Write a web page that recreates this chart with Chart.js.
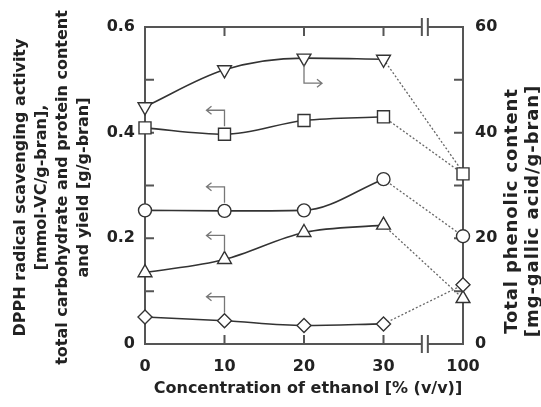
<!DOCTYPE html>
<html><head><meta charset="utf-8">
<script src="https://cdn.jsdelivr.net/npm/chart.js@4/dist/chart.umd.min.js"></script>
<style>html,body{margin:0;padding:0;background:#fff;}</style>
</head><body>
<canvas id="c" width="541" height="407"></canvas>
<script>
// ---- data ----
const categories = ['0', '10', '20', '30', '100'];          // ethanol concentration [% (v/v)]
const downTriangleVals = [44.9, 51.9, 54.1, 53.9, 32.5];   // right axis: total phenolic content
const squareVals   = [0.409, 0.397, 0.423, 0.430, 0.322];  // left axis
const circleVals   = [0.253, 0.252, 0.253, 0.312, 0.204];  // left axis
const triangleVals = [0.135, 0.160, 0.211, 0.225, 0.086];  // left axis
const diamondVals  = [0.051, 0.044, 0.035, 0.038, 0.112];  // left axis
const leftTickLabels  = ['0', '0.2', '0.4', '0.6'];
const rightTickLabels = ['0', '20', '40', '60'];
const xTitle = 'Concentration of ethanol [% (v/v)]';
const leftTitle = ['DPPH radical scavenging activity', '[mmol-VC/g-bran],', 'total carbohydrate and protein content', 'and yield [g/g-bran]'];
const rightTitle = ['Total phenolic content', '[mg-gallic acid/g-bran]'];

const FONT = 'DejaVu Sans';
const INK = '#222';
const LINE = '#333';

function solidPart(arr){ return arr.map((v,i)=> i < 4 ? v : null); }
function dottedPart(arr){ return arr.map((v,i)=> i >= 3 ? v : null); }

function series(vals, style, radius, rotation, axis, showLast, lastOrder){
  const common = { yAxisID: axis, borderColor: LINE, pointBorderColor: LINE, pointBackgroundColor: '#fff',
                   pointStyle: style, pointRotation: rotation, pointBorderWidth: 1.4, pointHoverRadius: radius };
  return [
    Object.assign({}, common, { data: solidPart(vals), borderWidth: 1.6, tension: 0.4, cubicInterpolationMode: 'monotone', pointRadius: radius, order: 0 }),
    Object.assign({}, common, { data: dottedPart(vals), borderWidth: 1.3, borderColor: '#666', borderDash: [2,2], tension: 0,
       pointRadius: ctx => (ctx.dataIndex === 4 && showLast) ? radius : 0, order: lastOrder })
  ];
}

const datasets = [
  ...series(downTriangleVals, 'triangle', 8, 180, 'y1', false, 6),
  ...series(squareVals, 'rect', 8.5, 0, 'y', true, 5),
  ...series(circleVals, 'circle', 6.5, 0, 'y', true, 4),
  ...series(diamondVals, 'rectRot', 7, 0, 'y', true, 2),
  ...series(triangleVals, 'triangle', 8, 0, 'y', true, 3),
];

const tickFont = { family: FONT, size: 16, weight: 'bold' };

const framePlugin = {
  id: 'frame',
  beforeDatasetsDraw(chart){
    const {ctx, chartArea:{left,right,top,bottom}} = chart;
    const xs = chart.scales.x, ys = chart.scales.y, y1 = chart.scales.y1;
    const bx = xs.getPixelForValue(3.52);
    const g = 3;
    ctx.save();
    ctx.strokeStyle = '#555'; ctx.lineWidth = 2; ctx.lineCap = 'butt';
    ctx.beginPath();
    ctx.moveTo(left, top - 1); ctx.lineTo(left, bottom + 1);
    ctx.moveTo(right, top - 1); ctx.lineTo(right, bottom + 1);
    ctx.moveTo(left, bottom); ctx.lineTo(bx - g, bottom);
    ctx.moveTo(bx + g, bottom); ctx.lineTo(right, bottom);
    ctx.moveTo(left, top); ctx.lineTo(bx - g, top);
    ctx.moveTo(bx + g, top); ctx.lineTo(right, top);
    [bottom, top].forEach(yy => {
      ctx.moveTo(bx - g, yy - 9); ctx.lineTo(bx - g, yy + 9);
      ctx.moveTo(bx + g, yy - 9); ctx.lineTo(bx + g, yy + 9);
    });
    ctx.stroke();
    ctx.beginPath();
    const L = 9;
    ys.ticks.forEach(t => { if (t.value > 0 && t.value < 0.6 - 1e-9) { const p = ys.getPixelForValue(t.value); ctx.moveTo(left, p); ctx.lineTo(left + L, p);} });
    y1.ticks.forEach(t => { if (t.value > 0 && t.value < 60) { const p = y1.getPixelForValue(t.value); ctx.moveTo(right, p); ctx.lineTo(right - L, p);} });
    [1,2,3].forEach(i => { const p = xs.getPixelForValue(i); ctx.moveTo(p, bottom); ctx.lineTo(p, bottom - L); ctx.moveTo(p, top); ctx.lineTo(p, top + L); });
    ctx.stroke();
    ctx.restore();
  },
  afterDatasetsDraw(chart){
    const {ctx} = chart;
    ctx.save();
    ctx.strokeStyle = '#777'; ctx.lineWidth = 1.3;
    [2,4,6,8].forEach(di => {
      const pt = chart.getDatasetMeta(di).data[1];
      const x = pt.x, y = pt.y, yTop = y - 24, xEnd = x - 18;
      ctx.beginPath();
      ctx.moveTo(x, y - 8); ctx.lineTo(x, yTop); ctx.lineTo(xEnd, yTop);
      ctx.moveTo(xEnd + 5, yTop - 4); ctx.lineTo(xEnd, yTop); ctx.lineTo(xEnd + 5, yTop + 4);
      ctx.stroke();
    });
    const p = chart.getDatasetMeta(0).data[2];
    const yb = p.y + 25, xe = p.x + 18;
    ctx.beginPath();
    ctx.moveTo(p.x, p.y + 7); ctx.lineTo(p.x, yb); ctx.lineTo(xe, yb);
    ctx.moveTo(xe - 5, yb - 4); ctx.lineTo(xe, yb); ctx.lineTo(xe - 5, yb + 4);
    ctx.stroke();
    ctx.restore();
  },
  afterDraw(chart){
    const {ctx, chartArea:{left,right,top,bottom}} = chart;
    ctx.save();
    ctx.fillStyle = INK;
    ctx.font = `bold 16px "${FONT}"`;
    ctx.textAlign = 'center'; ctx.textBaseline = 'middle';
    ctx.fillText(xTitle, (left + right) / 2 + 4, 389);
    const cy = (top + bottom) / 2 + 2;
    leftTitle.forEach((s, i) => {
      ctx.save(); ctx.translate(21 + i * 20.8, cy); ctx.rotate(-Math.PI/2); ctx.fillText(s, 0, 0); ctx.restore();
    });
    ctx.font = `bold 18px "${FONT}"`;
    ctx.letterSpacing = '0.9px';
    rightTitle.forEach((s, i) => {
      ctx.save(); ctx.translate(512 + i * 21, 211); ctx.rotate(-Math.PI/2); ctx.fillText(s, 0, 0); ctx.restore();
    });
    ctx.restore();
  }
};

new Chart(document.getElementById('c'), {
  type: 'line',
  data: { labels: categories, datasets },
  options: {
    responsive: false, animation: false, devicePixelRatio: 1,
    layout: { padding: { top: 27, left: 0, right: 0, bottom: 0 } },
    plugins: { legend: { display: false }, tooltip: { enabled: false } },
    scales: {
      x: { type: 'category', offset: false, grid: { display: false, drawTicks: false }, border: { display: false },
           ticks: { font: tickFont, color: INK, padding: 13, maxRotation: 0, autoSkip: false },
           afterFit(s){ s.height = 63; } },
      y: { position: 'left', min: 0, max: 0.6, grid: { display: false, drawTicks: false }, border: { display: false },
           ticks: { stepSize: 0.1, font: tickFont, color: INK, padding: 10,
                    callback: v => { const k = Math.round(v * 10); return k % 2 === 0 ? leftTickLabels[k / 2] : ''; } },
           afterFit(s){ s.width = 145; } },
      y1: { position: 'right', min: 0, max: 60, grid: { display: false, drawTicks: false }, border: { display: false },
           ticks: { stepSize: 10, font: tickFont, color: INK, padding: 12,
                    callback: v => { const k = Math.round(v / 10); return k % 2 === 0 ? rightTickLabels[k / 2] : ''; } },
           afterFit(s){ s.width = 78; } }
    }
  },
  plugins: [framePlugin]
});
</script>
</body></html>
